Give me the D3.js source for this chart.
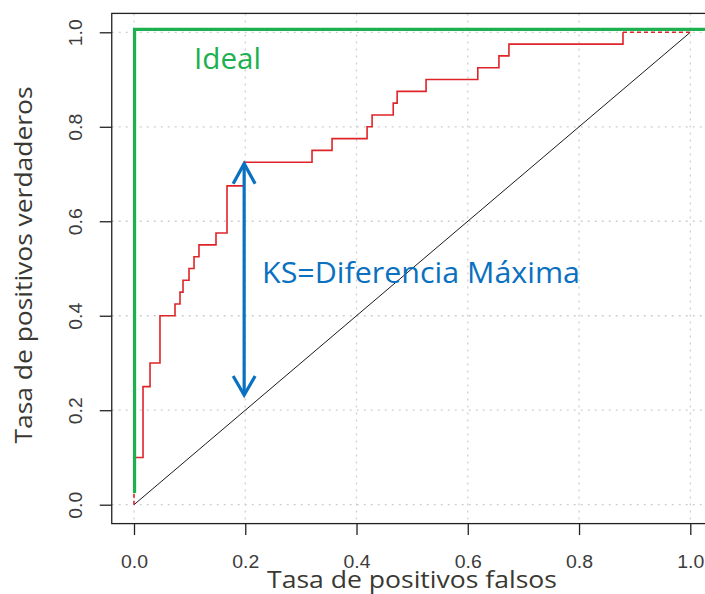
<!DOCTYPE html>
<html>
<head>
<meta charset="utf-8">
<script src="https://cdn.jsdelivr.net/npm/d3@7"></script>
<style>
  html, body { margin: 0; padding: 0; background: #ffffff; }
  svg { display: block; }
</style>
</head>
<body>
<svg id="chart" width="705" height="594"></svg>
<script>
// Axis ticks and labels
const tickValues = [0, 0.2, 0.4, 0.6, 0.8, 1.0];
const tickLabels = ["0.0", "0.2", "0.4", "0.6", "0.8", "1.0"];

// Empirical ROC curve (step corners: false positive rate, true positive rate)
const rocFpr = [0, 0, 0.0162, 0.0288, 0.0467, 0.0737, 0.0827, 0.0881, 0.0989, 0.1079,
  0.1168, 0.1474, 0.1672, 0.198, 0.32, 0.356, 0.419, 0.428, 0.466, 0.473,
  0.525, 0.618, 0.656, 0.674, 0.879, 1.0];
const rocTpr = [0, 0.1, 0.25, 0.30, 0.40, 0.425, 0.45, 0.475, 0.50, 0.525,
  0.55, 0.575, 0.675, 0.725, 0.75, 0.775, 0.80, 0.825, 0.85, 0.875,
  0.90, 0.925, 0.95, 0.975, 1.0, 1.0];

// Perfect classifier and chance diagonal
const idealFpr = [0.001, 0.001, 1.04];
const idealTpr = [0.025, 1.006, 1.006];
const chanceFpr = [0, 1];
const chanceTpr = [0, 1];

// Kolmogorov-Smirnov distance marker
const ksFpr = 0.198;
const ksLow = 0.23;
const ksHigh = 0.724;

// Annotation texts
const axisTitleX = "Tasa de positivos falsos";
const axisTitleY = "Tasa de positivos verdaderos";
const idealLabel = "Ideal";
const ksLabel = "KS=Diferencia Máxima";

const svg = d3.select("#chart");

// Plot region padded 4% beyond [0, 1] on each side
const x = d3.scaleLinear().domain([-0.04, 1.04]).range([111.75, 712.55]);
const y = d3.scaleLinear().domain([-0.04, 1.04]).range([523.6, 13.4]);

const zip = (a, b) => a.map((v, i) => [v, b[i]]);
const line = d3.line().x(d => x(d[0])).y(d => y(d[1]));
const stepLine = d3.line().x(d => x(d[0])).y(d => y(d[1])).curve(d3.curveStepAfter);

// Dotted grid
const grid = svg.append("g")
  .attr("stroke", "#cfcfcf")
  .attr("stroke-width", 1.3)
  .attr("stroke-dasharray", "2,5");
grid.selectAll("line.v").data(tickValues).join("line")
  .attr("class", "v")
  .attr("x1", d => x(d)).attr("x2", d => x(d))
  .attr("y1", y.range()[1]).attr("y2", y.range()[0]);
grid.selectAll("line.h").data(tickValues).join("line")
  .attr("class", "h")
  .attr("y1", d => y(d)).attr("y2", d => y(d))
  .attr("x1", x.range()[0]).attr("x2", x.range()[1]);

// Chance diagonal
svg.append("path")
  .datum(zip(chanceFpr, chanceTpr))
  .attr("d", line)
  .attr("fill", "none")
  .attr("stroke", "#1a1a1a")
  .attr("stroke-width", 1);

// ROC curve: interior steps solid, end segments dashed
const roc = zip(rocFpr, rocTpr);
svg.append("path")
  .datum(roc.slice(1, roc.length - 1))
  .attr("d", stepLine)
  .attr("fill", "none")
  .attr("stroke", "#de2428")
  .attr("stroke-width", 1.6);
[roc.slice(0, 2), roc.slice(roc.length - 2)].forEach(seg => {
  svg.append("path")
    .datum(seg)
    .attr("d", stepLine)
    .attr("fill", "none")
    .attr("stroke", "#de2428")
    .attr("stroke-width", 1.6)
    .attr("stroke-dasharray", "4,3");
});

// Ideal curve
svg.append("path")
  .datum(zip(idealFpr, idealTpr))
  .attr("d", line)
  .attr("fill", "none")
  .attr("stroke", "#1cb04f")
  .attr("stroke-width", 3.2)
  .attr("stroke-linejoin", "miter");

// KS double arrow
const ksColor = "#0a70c0";
const ax = x(ksFpr), aTop = y(ksHigh), aBot = y(ksLow);
const ks = svg.append("g")
  .attr("fill", "none")
  .attr("stroke", ksColor)
  .attr("stroke-width", 3.2);
ks.append("line").attr("x1", ax).attr("x2", ax).attr("y1", aTop + 1).attr("y2", aBot - 1);
ks.append("path").attr("d", `M${ax - 11},${aTop + 21}L${ax},${aTop + 1}L${ax + 11},${aTop + 21}`);
ks.append("path").attr("d", `M${ax - 11},${aBot - 20}L${ax},${aBot - 1}L${ax + 11},${aBot - 20}`);

// Plot frame
svg.append("rect")
  .attr("x", x.range()[0]).attr("y", y.range()[1])
  .attr("width", x.range()[1] - x.range()[0])
  .attr("height", y.range()[0] - y.range()[1])
  .attr("fill", "none")
  .attr("stroke", "#222")
  .attr("stroke-width", 1.3);

// Axes
const fmt = (d, i) => tickLabels[i];
const xAxis = svg.append("g")
  .attr("transform", `translate(0,${y.range()[0]})`)
  .call(d3.axisBottom(x).tickValues(tickValues).tickFormat(fmt).tickSize(11.5).tickPadding(0));
const yAxis = svg.append("g")
  .attr("transform", `translate(${x.range()[0]},0)`)
  .call(d3.axisLeft(y).tickValues(tickValues).tickFormat(fmt).tickSize(12).tickPadding(0));
[xAxis, yAxis].forEach(g => {
  g.select(".domain").remove();
  g.selectAll(".tick line").attr("stroke", "#222").attr("stroke-width", 1.3);
  g.selectAll(".tick text")
    .attr("fill", "#3c3c3c")
    .style("font-family", "'Liberation Sans', Arial, sans-serif")
    .style("font-size", "18px")
    .attr("textLength", 27)
    .attr("lengthAdjust", "spacingAndGlyphs");
});
xAxis.selectAll(".tick text")
  .attr("y", 44)
  .attr("dy", null)
  .attr("text-anchor", "middle");
yAxis.selectAll(".tick text")
  .attr("x", null).attr("dy", null)
  .attr("text-anchor", "middle")
  .attr("transform", "translate(-30,0) rotate(-90)");

// Axis titles
svg.append("text")
  .attr("x", 412).attr("y", 588)
  .attr("text-anchor", "middle")
  .attr("fill", "#3a3832")
  .style("font-family", "'Open Sans', 'Noto Sans', sans-serif")
  .style("font-size", "24px")
  .attr("textLength", 290)
  .attr("lengthAdjust", "spacingAndGlyphs")
  .text(axisTitleX);
svg.append("text")
  .attr("transform", "translate(31.5,265) rotate(-90)")
  .attr("text-anchor", "middle")
  .attr("fill", "#3a3832")
  .style("font-family", "'Open Sans', 'Noto Sans', sans-serif")
  .style("font-size", "24px")
  .attr("textLength", 357)
  .attr("lengthAdjust", "spacingAndGlyphs")
  .text(axisTitleY);

// Annotations
svg.append("text")
  .attr("x", 194).attr("y", 69)
  .attr("fill", "#1cb04f")
  .style("font-family", "'Open Sans', 'Noto Sans', sans-serif")
  .style("font-size", "30px")
  .attr("textLength", 67)
  .attr("lengthAdjust", "spacingAndGlyphs")
  .text(idealLabel);
svg.append("text")
  .attr("x", 262).attr("y", 283)
  .attr("fill", ksColor)
  .style("font-family", "'Open Sans', 'Noto Sans', sans-serif")
  .style("font-size", "29px")
  .attr("textLength", 318)
  .attr("lengthAdjust", "spacingAndGlyphs")
  .text(ksLabel);
</script>
</body>
</html>
